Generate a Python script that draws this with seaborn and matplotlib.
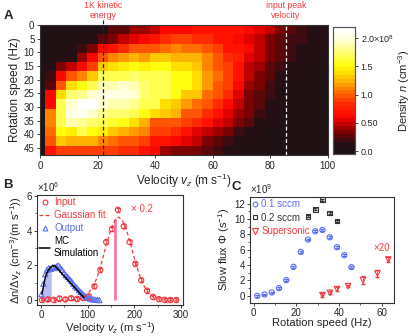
import numpy as np
import pandas as pd
import matplotlib
matplotlib.use("Agg")
import matplotlib.pyplot as plt
import seaborn as sns
from matplotlib.colors import LinearSegmentedColormap
from matplotlib.lines import Line2D
from matplotlib.ticker import MultipleLocator

# ---------------- data ----------------
# A: density map (1e8 cm^-3), rows = rotation speed, cols = velocity bins
rotation_hz = [1.7, 5.1, 8.5, 11.9, 15.3, 18.7, 22.1, 25.5, 28.9, 32.3, 35.7, 39.1, 42.5, 45.9]
velocity_ms = [0, 3.6, 7.3, 10.9, 14.5, 18.2, 21.8, 25.5, 29.1, 32.7, 36.4, 40.0, 43.6, 47.3,
               50.9, 54.5, 58.2, 61.8, 65.5, 69.1, 72.7, 76.4, 80.0, 83.6, 87.3, 90.9, 94.5, 98.2]
density = [
    [.03, .03, .03, .03, .04, .06, .08, .25, .30, .38, .42, .48, .60, .62, .65, .68, .68, .68, .68, .68, .65, .52, .45, .33, .30, .22, .15, .10],
    [.03, .03, .03, .04, .10, .15, .25, .33, .45, .55, .60, .70, .80, .90, .90, .85, .85, .72, .72, .62, .52, .45, .37, .30, .22, .22, .10, .10],
    [.03, .03, .04, .12, .18, .33, .60, .70, .85, .95, .95, 1.0, 1.05, 1.1, 1.05, 1.05, 1.0, .90, .72, .70, .60, .50, .37, .30, .22, .15, .10, .10],
    [.03, .06, .10, .12, .40, .60, .95, 1.1, 1.2, 1.25, 1.2, 1.3, 1.3, 1.22, 1.22, 1.22, 1.1, .95, .80, .78, .52, .45, .33, .27, .22, .15, .15, .07],
    [.03, .10, .33, .45, .60, .90, 1.3, 1.4, 1.47, 1.5, 1.47, 1.5, 1.5, 1.4, 1.4, 1.3, 1.1, 1.0, .90, .70, .50, .40, .30, .22, .15, .15, .06, .05],
    [.03, .22, .60, .95, 1.1, 1.3, 1.65, 1.68, 1.7, 1.74, 1.68, 1.68, 1.66, 1.55, 1.53, 1.4, 1.18, 1.05, .90, .70, .45, .37, .25, .15, .15, .10, .04, .04],
    [.03, .30, 1.0, 1.4, 1.53, 1.68, 1.88, 1.9, 1.92, 1.86, 1.74, 1.68, 1.68, 1.53, 1.55, 1.4, 1.18, 1.0, .90, .60, .40, .33, .22, .15, .05, .04, .04, .04],
    [.03, .60, 1.4, 1.74, 1.8, 1.92, 2.05, 2.05, 2.0, 1.95, 1.74, 1.68, 1.66, 1.53, 1.35, 1.3, 1.05, .95, .80, .52, .37, .30, .22, .10, .04, .04, .04, .04],
    [.03, .60, 1.68, 1.95, 2.15, 2.15, 1.95, 1.9, 1.88, 1.8, 1.7, 1.68, 1.42, 1.35, 1.18, 1.05, .95, .80, .60, .45, .33, .25, .15, .10, .04, .04, .04, .04],
    [.03, 1.1, 1.68, 2.04, 2.08, 1.92, 1.78, 1.74, 1.74, 1.65, 1.53, 1.4, 1.3, 1.28, 1.0, .95, .80, .70, .52, .40, .33, .22, .15, .10, .04, .10, .04, .04],
    [.03, 1.1, 1.68, 1.86, 1.8, 1.74, 1.68, 1.6, 1.5, 1.4, 1.22, 1.0, 1.0, .98, .90, .80, .70, .52, .45, .37, .25, .15, .10, .04, .04, .04, .04, .04],
    [.03, 1.05, 1.53, 1.47, 1.68, 1.53, 1.45, 1.3, 1.22, 1.18, 1.1, .90, .88, .85, .70, .52, .45, .40, .33, .22, .15, .10, .04, .04, .04, .04, .04, .04],
    [.03, .95, 1.3, 1.22, 1.22, 1.22, 1.1, 1.05, 1.0, 1.0, .90, .70, .68, .65, .55, .45, .33, .25, .22, .15, .10, .04, .04, .04, .04, .04, .04, .04],
    [.03, .70, .90, .90, .90, .90, .90, .90, .85, .80, .70, .60, .38, .36, .33, .33, .25, .22, .15, .10, .04, .04, .04, .04, .04, .04, .04, .04],
]
kinetic_1k_v = 22.0
input_peak_v = 85.5

# B: velocity distributions (1e6)
in_v = [2, 14.5, 27, 39.5, 52, 64.5, 77, 89.5, 102, 114.5, 127, 139.5, 152, 164.5, 177, 189.5,
        202, 214.5, 227, 239.5, 252, 264.5, 277, 289.5]
in_d = [0.02, 0.05, 0.03, 0.10, 0.05, 0.12, 0.08, 0.15, 0.22, 0.80, 1.75, 3.35, 4.10, 5.20, 4.25, 3.35,
        2.10, 1.15, 0.55, 0.20, 0.07, 0.03, 0.02, 0.02]
fit_v = [0, 60, 80, 90, 100, 110, 120, 130, 140, 150, 158, 166, 174, 182, 190, 200, 210, 220, 230, 240,
         250, 265, 285, 300]
fit_d = [0.0, 0.0, 0.05, 0.12, 0.35, 0.72, 1.3, 2.2, 3.2, 4.1, 4.6, 4.78, 4.6, 4.15, 3.4, 2.4, 1.5, 0.85,
         0.42, 0.18, 0.07, 0.01, 0.0, 0.0]
out_v = [1, 5, 9, 13, 17, 21, 25, 29, 33, 37, 41, 45, 49, 53, 57, 61, 65, 69, 73, 77, 81, 85, 89, 93,
         97, 101, 105, 109, 113, 117, 121, 125]
out_d = [0.35, 0.95, 1.5, 1.75, 1.85, 1.8, 1.9, 1.85, 1.95, 2.0, 1.9, 1.75, 1.6, 1.45, 1.35, 1.22, 1.1,
         0.95, 0.8, 0.72, 0.58, 0.48, 0.38, 0.28, 0.2, 0.13, 0.1, 0.06, 0.05, 0.03, 0.02, 0.01]
mc_v = [2, 6, 10, 15, 20, 22, 25, 29, 40, 50, 60, 70, 80, 92]
mc_d = [0.35, 0.9, 1.4, 1.7, 1.88, 1.92, 1.97, 2.0, 1.68, 1.38, 1.09, 0.79, 0.5, 0.15]
peak_v, peak_top = 158, 4.65

# C: slow flux (1e9 s^-1)
rot_01 = [1.7, 5.1, 8.5, 11.9, 15.3, 18.7, 22.1, 25.5, 28.9, 32.3, 35.7, 39.1, 42.5, 45.9]
flux_01 = [0.0, 0.17, 0.43, 1.0, 2.04, 3.77, 5.72, 7.32, 8.4, 8.57, 7.62, 6.32, 5.29, 3.73]
rot_02 = [25.5, 28.9, 32.3, 35.7, 39.1]
flux_02 = [10.35, 11.26, 12.52, 10.78, 9.74]
rot_sup = [32.3, 35.8, 39.1, 44.3, 51.3, 58.1, 63.2]
flux_sup = [0.09, 0.39, 0.87, 1.26, 2.04, 2.9, 4.72]
err_sup = [0.3, 0.2, 0.3, 0.15, 0.5, 0.5, 0.35]

RED = "#f23a3f"
BLUE = "#5a70f0"
GREY = "#333333"

# ---------------- style ----------------
sns.set_theme(style="ticks")
plt.rcParams["font.family"] = ["Liberation Sans", "DejaVu Sans"]
plt.rcParams["mathtext.fontset"] = "custom"
plt.rcParams["mathtext.rm"] = "Liberation Sans"
plt.rcParams["mathtext.it"] = "Liberation Sans:italic"
plt.rcParams["mathtext.bf"] = "Liberation Sans:bold"
plt.rcParams["axes.linewidth"] = 0.8
plt.rcParams["axes.edgecolor"] = "#333333"

fig = plt.figure(figsize=(4.15, 3.36), dpi=100)

# ---------------- A ----------------
axA = fig.add_axes([0.0964, 0.5387, 0.6928, 0.3869])
cax = fig.add_axes([0.8024, 0.5417, 0.053, 0.378])

levels = [(-0.05, "#1a1214"), (0.10, "#241014"), (0.20, "#4a0a0e"), (0.35, "#8a0000"),
          (0.50, "#d80000"), (0.62, "#ff0a00"), (0.85, "#ff3000"), (1.05, "#ff7000"),
          (1.25, "#ffb000"), (1.42, "#ffe400"), (1.55, "#ffff10"), (1.80, "#ffff80"),
          (2.00, "#ffffd8"), (2.20, "#ffffff")]
vmin, vmax = -0.05, 2.2
cmap = LinearSegmentedColormap.from_list(
    "dens", [((v - vmin) / (vmax - vmin), c) for v, c in levels], N=32)

dens_df = pd.DataFrame(density, index=rotation_hz, columns=velocity_ms)
sns.heatmap(dens_df, ax=axA, cmap=cmap, vmin=vmin, vmax=vmax, cbar_ax=cax,
            xticklabels=False, yticklabels=False)

v_step = (velocity_ms[-1] - velocity_ms[0]) / (len(velocity_ms) - 1)
r_step = (rotation_hz[-1] - rotation_hz[0]) / (len(rotation_hz) - 1)


def v_idx(v):
    return 0.5 + (v - velocity_ms[0]) / v_step


def r_idx(r):
    return 0.5 + (r - rotation_hz[0]) / r_step


axA.set_xlim(v_idx(0), v_idx(100))
axA.set_ylim(r_idx(47.6), r_idx(0))
axA.set_xticks([v_idx(v) for v in range(0, 101, 20)])
axA.set_xticklabels([str(v) for v in range(0, 101, 20)])
axA.set_yticks([r_idx(r) for r in range(0, 46, 5)])
axA.set_yticklabels([str(r) for r in range(0, 46, 5)], rotation=0)
for sp in axA.spines.values():
    sp.set_visible(True)
    sp.set_color("#333333")
    sp.set_linewidth(0.8)
axA.tick_params(direction="out", length=2.5, width=0.6, labelsize=7, pad=1.5)
axA.set_xlabel("Velocity $v_z$ (m s$^{-1}$)", fontsize=8.5, labelpad=1)
axA.set_ylabel("Rotation speed (Hz)", fontsize=8.5, labelpad=2)

axA.axvline(v_idx(kinetic_1k_v), ymin=0, ymax=1.04, color="#222222", ls=(0, (3, 2)), lw=0.9, clip_on=False)
axA.axvline(v_idx(input_peak_v), color="white", ls=(0, (3, 2)), lw=0.9)
axA.text(v_idx(kinetic_1k_v), 1.04, "1K kinetic\nenergy", transform=axA.get_xaxis_transform(),
         ha="center", va="bottom", color=RED, fontsize=6.3, linespacing=1.15)
axA.text(v_idx(input_peak_v), 1.04, "input peak\nvelocity", transform=axA.get_xaxis_transform(),
         ha="center", va="bottom", color=RED, fontsize=6.3, linespacing=1.15)

cax.set_yticks([0, 0.5, 1.0, 1.5, 2.0])
cax.set_yticklabels(["0.0", "0.50", "1.0", "1.5", "2.0\u00d710$^8$"])
cax.tick_params(length=2.5, width=0.6, labelsize=6.5, pad=1.5)
cax.set_ylabel("Density $n$ (cm$^{-3}$)", fontsize=8, labelpad=2)
for sp in cax.spines.values():
    sp.set_visible(True)
    sp.set_color("#555555")
    sp.set_linewidth(0.8)

# ---------------- B ----------------
axB = fig.add_axes([0.0892, 0.0908, 0.3518, 0.3289])
fill_v = [v for v in mc_v if v <= kinetic_1k_v]
fill_d = mc_d[:len(fill_v)]
axB.fill_between([0] + fill_v, [0] * (len(fill_v) + 1), [mc_d[0]] + fill_d, color="#b9bdf5", lw=0)
axB.vlines(peak_v, 0, peak_top, color="#f27aa8", lw=2)
sns.lineplot(x=fit_v, y=fit_d, ax=axB, color=RED, lw=0.9, linestyle=(0, (3, 2)))
axB.errorbar(in_v, in_d, yerr=0.12, fmt="none", ecolor=RED, elinewidth=0.5, capsize=1.2)
sns.scatterplot(x=in_v, y=in_d, ax=axB, marker="o", s=14, facecolors="none", edgecolor=RED, linewidth=0.8)
sns.scatterplot(x=out_v, y=out_d, ax=axB, marker="^", s=14, facecolors="none", edgecolor=BLUE, linewidth=0.8)
sns.lineplot(x=mc_v, y=mc_d, ax=axB, color="black", lw=1.1)

axB.set_xlim(-8.5, 304)
axB.set_ylim(-0.3, 6.05)
axB.xaxis.set_major_locator(MultipleLocator(100))
axB.xaxis.set_minor_locator(MultipleLocator(50))
axB.yaxis.set_major_locator(MultipleLocator(2))
axB.yaxis.set_minor_locator(MultipleLocator(1))
axB.tick_params(which="major", direction="out", length=2.5, width=0.6, labelsize=7, pad=1)
axB.tick_params(which="minor", direction="out", length=1.5, width=0.5)
axB.set_xlabel("Velocity $v_z$ (m s$^{-1}$)", fontsize=8, labelpad=0)
axB.set_ylabel("\u0394n/\u0394v$_z$ (cm$^{-3}$/(m s$^{-1}$))", fontsize=8, labelpad=2)
axB.text(0.0, 1.01, "\u00d710$^6$", transform=axB.transAxes, fontsize=7, va="bottom", ha="left")
axB.text(192, 5.25, "\u00d7 0.2", color=RED, fontsize=7, va="center")

hB = [Line2D([], [], color=RED, marker="o", mfc="none", ls="none", ms=3.5, mew=0.8),
      Line2D([], [], color=RED, ls=(0, (3, 2)), lw=0.9),
      Line2D([], [], color=BLUE, marker="^", mfc="none", ls="none", ms=3.5, mew=0.8),
      Line2D([], [], color="black", lw=1.1)]
axB.legend(hB, ["Input", "Gaussian fit", "Output", "MC\nSimulation"], loc="upper left",
           frameon=False, labelcolor="linecolor", fontsize=7, handlelength=1.1,
           handletextpad=0.4, borderaxespad=0.15, borderpad=0.1, labelspacing=0.3)

# ---------------- C ----------------
axC = fig.add_axes([0.6024, 0.0991, 0.3477, 0.3155])
axC.errorbar(rot_01, flux_01, yerr=0.12, fmt="none", ecolor=BLUE, elinewidth=0.5, capsize=1.2)
axC.errorbar(rot_02, flux_02, yerr=0.12, fmt="none", ecolor=GREY, elinewidth=0.5, capsize=1.2)
axC.errorbar(rot_sup, flux_sup, yerr=err_sup, fmt="none", ecolor=RED, elinewidth=0.6, capsize=1.5)
sns.scatterplot(x=rot_01, y=flux_01, ax=axC, marker="o", s=14, facecolors="none", edgecolor=BLUE, linewidth=0.8)
sns.scatterplot(x=rot_02, y=flux_02, ax=axC, marker="s", s=12, facecolors="none", edgecolor=GREY, linewidth=0.8)
sns.scatterplot(x=rot_sup, y=flux_sup, ax=axC, marker="v", s=16, facecolors="none", edgecolor=RED, linewidth=0.8)

axC.set_xlim(-1.7, 66)
axC.set_ylim(-0.9, 12.9)
axC.xaxis.set_major_locator(MultipleLocator(20))
axC.xaxis.set_minor_locator(MultipleLocator(10))
axC.yaxis.set_major_locator(MultipleLocator(2))
axC.yaxis.set_minor_locator(MultipleLocator(1))
axC.tick_params(which="major", direction="out", length=2.5, width=0.6, labelsize=7, pad=1)
axC.tick_params(which="minor", direction="out", length=1.5, width=0.5)
axC.set_xlabel("Rotation speed (Hz)", fontsize=8, labelpad=0)
axC.set_ylabel("Slow flux $\\mathit{\\Phi}$ (s$^{-1}$)", fontsize=8, labelpad=2)
axC.text(0.0, 1.01, "\u00d710$^9$", transform=axC.transAxes, fontsize=7, va="bottom", ha="left")
axC.text(56, 6.2, "\u00d720", color=RED, fontsize=7, va="center")

hC = [Line2D([], [], color=BLUE, marker="o", mfc="none", ls="none", ms=3.5, mew=0.8),
      Line2D([], [], color=GREY, marker="s", mfc="none", ls="none", ms=3.2, mew=0.8),
      Line2D([], [], color=RED, marker="v", mfc="none", ls="none", ms=3.8, mew=0.8)]
axC.legend(hC, ["0.1 sccm", "0.2 sccm", "Supersonic"], loc="upper left", frameon=False,
           labelcolor="linecolor", fontsize=7, handlelength=0.6, handletextpad=0.3,
           borderaxespad=0.15, borderpad=0.1, labelspacing=0.35)

# panel letters
fig.text(4 / 415, 0.951, "A", fontsize=9.5, weight="bold", va="center")
fig.text(3 / 415, 0.449, "B", fontsize=9.5, weight="bold", va="center")
fig.text(231 / 415, 0.442, "C", fontsize=9.5, weight="bold", va="center")

fig.savefig("out.png", dpi=100)
